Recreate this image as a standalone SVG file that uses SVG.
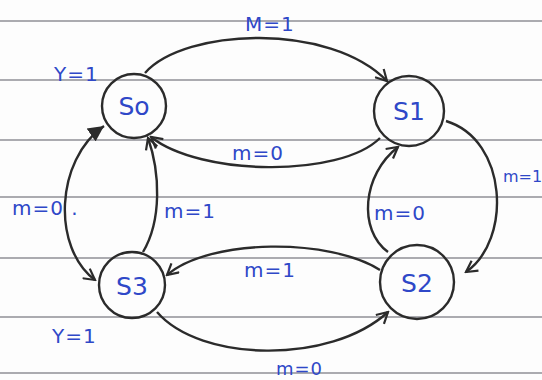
<svg xmlns="http://www.w3.org/2000/svg" width="542" height="380" viewBox="0 0 542 380">
<defs>
<style>
.paper{stroke:#8f8f96;stroke-width:1.6}
.node{fill:none;stroke:#2b2b2b;stroke-width:2.4}
.edge{fill:none;stroke:#2b2b2b;stroke-width:2.4;marker-end:url(#arr)}
.lbl{font-family:"DejaVu Sans","Liberation Sans",sans-serif;fill:#2f48c8;font-size:20px;letter-spacing:1px}
.st{font-family:"DejaVu Sans","Liberation Sans",sans-serif;fill:#2f48c8;font-size:25px}
</style>
<marker id="arr" viewBox="0 0 14 14" refX="12" refY="7" markerWidth="14" markerHeight="14" markerUnits="userSpaceOnUse" orient="auto">
<path d="M1,1 L12,7 L1,13" fill="none" stroke="#2b2b2b" stroke-width="2.2"/>
</marker>
<marker id="arrF" viewBox="0 0 16 16" refX="14" refY="8" markerWidth="18" markerHeight="18" markerUnits="userSpaceOnUse" orient="auto-start-reverse">
<path d="M0,1 L14,8 L0,15 Z" fill="#2b2b2b"/>
</marker>
</defs>
<rect width="542" height="380" fill="#fdfdfd"/>
<g id="paper">
<line class="paper" x1="0" y1="21" x2="542" y2="21"/>
<line class="paper" x1="0" y1="80" x2="542" y2="80"/>
<line class="paper" x1="0" y1="140" x2="542" y2="140"/>
<line class="paper" x1="0" y1="197" x2="542" y2="197"/>
<line class="paper" x1="0" y1="258" x2="542" y2="258"/>
<line class="paper" x1="0" y1="317" x2="542" y2="317"/>
<line class="paper" x1="0" y1="373" x2="542" y2="373"/>
</g>
<g id="connectors">
<path class="edge" d="M145,73 C185,28 330,22 387,81"/>
<path class="edge" d="M380,138 C340,178 200,176 151,137"/>
<path class="edge" d="M446,121 C508,140 512,240 466,272"/>
<path class="edge" d="M388,252 C358,230 362,175 398,147"/>
<path class="edge" d="M380,270 C330,238 210,238 167,275"/>
<path class="edge" d="M157,312 C200,362 330,365 388,312"/>
<path class="edge" d="M104,126 C55,160 52,248 95,280" style="marker-start:url(#arrF)"/>
<path class="edge" d="M143,252 C162,220 160,172 148,138"/>
</g>
<g id="S0"><circle class="node" cx="134" cy="106" r="32"/><text class="st" x="134" y="115" text-anchor="middle">So</text></g>
<g id="S1"><circle class="node" cx="409" cy="111" r="35"/><text class="st" x="409" y="120" text-anchor="middle">S1</text></g>
<g id="S2"><circle class="node" cx="417" cy="282" r="37"/><text class="st" x="417" y="292" text-anchor="middle">S2</text></g>
<g id="S3"><circle class="node" cx="132" cy="285" r="33"/><text class="st" x="132" y="295" text-anchor="middle">S3</text></g>
<g id="labels">
<text class="lbl" x="245" y="31">M=1</text>
<text class="lbl" x="54" y="81">Y=1</text>
<text class="lbl" x="232" y="160">m=0</text>
<text class="lbl" x="12" y="215">m=0 .</text>
<text class="lbl" x="164" y="218">m=1</text>
<text class="lbl" x="374" y="220">m=0</text>
<text class="lbl" x="503" y="182" style="font-size:16px;letter-spacing:0">m=1</text>
<text class="lbl" x="244" y="277">m=1</text>
<text class="lbl" x="52" y="343">Y=1</text>
<text class="lbl" x="276" y="375" style="font-size:18px">m=0</text>
</g>
</svg>
